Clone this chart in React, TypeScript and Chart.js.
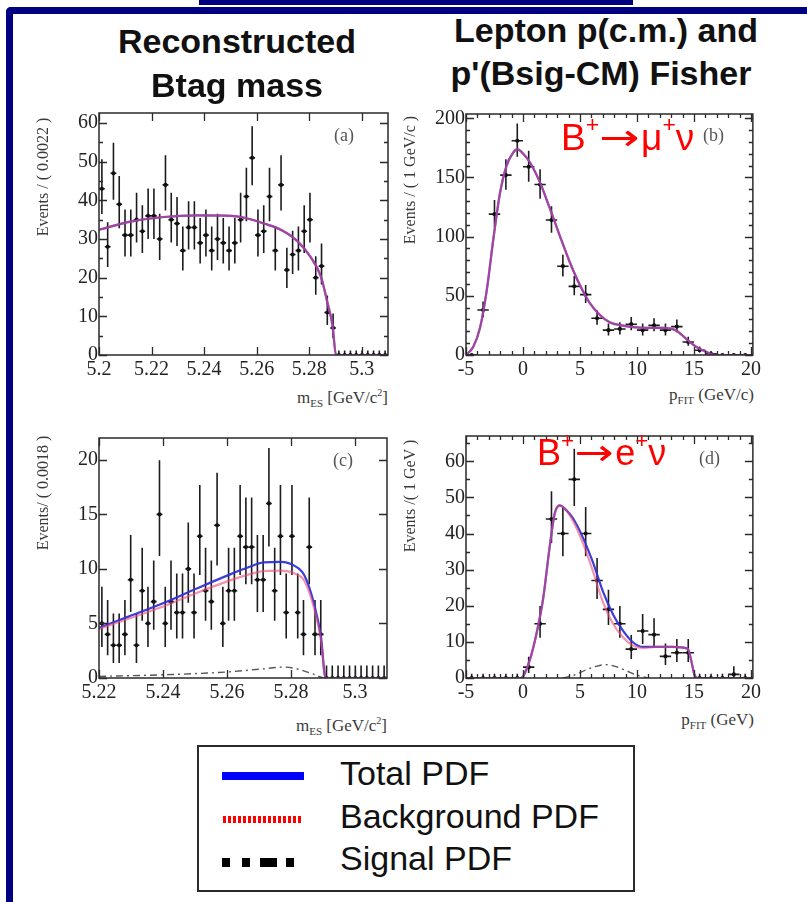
import React, { useEffect, useRef } from "react";
import { Chart, registerables } from "chart.js";
Chart.register(...registerables);

// ---------------- data ----------------
// (a) Btag mES, mu channel
const A_LO = 5.2;
const A_BIN = 0.0022;
const A_COUNTS = [43, 28, 47, 39, 31, 31, 35, 32, 36, 36, 30, 44, 35, 34, 27, 33, 33, 29, 31, 27, 30, 29, 27, 29, 35, 41, 51, 31, 32, 41, 27, 44, 22, 26, 27, 32, 35, 20, 23, 11, 7, 0, 0, 0, 0, 0, 0, 0, 0, 0];
const A_FIT_X = [5.2, 5.212, 5.2247, 5.2374, 5.2501, 5.2565, 5.2628, 5.2692, 5.2756, 5.2807, 5.2845, 5.287, 5.2889, 5.2902, 5.31];
const A_FIT_Y = [32.4, 34.5, 35.7, 36.1, 36.0, 35.3, 34.0, 32.4, 29.4, 25.2, 20.2, 13.4, 7.6, 0, 0];

// (b) pFIT, mu channel
const B_LO = -5;
const B_BIN = 1;
const B_COUNTS = [0, 38, 119, 152, 181, 159, 144, 114, 75, 58, 51, 31, 21, 22, 26, 21, 25, 21, 24, 11, 4, 1, 0, 0, 0];
const B_FIT_X = [-5, -4.36, -3.77, -3.19, -2.6, -2.02, -1.44, -0.86, -0.5, 0.02, 0.6, 1.48, 2.35, 3.23, 4.1, 4.98, 5.85, 6.73, 7.6, 8.77, 9.94, 11.1, 12.27, 13.44, 14.3, 15.2, 16.06, 16.94, 20.2];
const B_FIT_Y = [0, 6.9, 23, 54, 98, 136.6, 160, 171, 174, 170, 162.8, 146, 124, 100.7, 78.6, 59.3, 44, 34, 27.6, 24.8, 23.4, 22.9, 22.9, 20.7, 13.8, 6.9, 2.8, 0, 0];

// (c) Btag mES, e channel
const C_LO = 5.22;
const C_BIN = 0.0018;
const C_COUNTS = [5, 4, 3, 3, 4, 9, 3, 8, 5, 7, 15, 5, 7, 6, 6, 10, 6, 13, 8, 7, 14, 5, 8, 8, 13, 12, 12, 9, 9, 16, 8, 13, 6, 13, 6, 4, 12, 4, 4, 0, 0, 0, 0, 0, 0, 0, 0, 0, 0, 0];
const C_FIT_X = [5.22, 5.2294, 5.24, 5.2505, 5.261, 5.2663, 5.2715, 5.2768, 5.281, 5.2842, 5.2873, 5.2894, 5.2908, 5.31];
const C_TOTAL = [4.6, 5.65, 6.85, 8.2, 9.5, 10.1, 10.6, 10.65, 10.3, 9.4, 6.7, 3.7, 0, 0];
const C_BKG = [4.5, 5.45, 6.55, 7.8, 8.95, 9.45, 9.8, 9.85, 9.6, 8.9, 6.3, 3.4, 0, 0];
const C_SIG_X = [5.22, 5.235, 5.25, 5.26, 5.27, 5.278, 5.283, 5.287, 5.2905, 5.31];
const C_SIG = [0.15, 0.25, 0.4, 0.55, 0.8, 1.0, 0.75, 0.35, 0, 0];

// (d) pFIT, e channel
const D_LO = -5;
const D_BIN = 1;
const D_COUNTS = [0, 0, 0, 0, 0, 3, 15, 44, 40, 55, 40, 27, 19, 15, 8, 13, 12, 6, 7, 7, 0, 0, 0, 1, 0];
const D_FIT_X = [-5, -0.2, 0.02, 0.6, 1.18, 1.77, 2.35, 2.79, 3.23, 3.66, 4.39, 5.27, 6.14, 7.02, 7.9, 8.77, 9.64, 10.52, 11.69, 13.14, 14.46, 14.75, 15.04, 15.33, 20.2];
const D_TOTAL = [0, 0, 0.5, 5, 12.2, 22, 36.5, 45.6, 47.8, 46.9, 44.2, 38.8, 32, 23.9, 17.6, 13.1, 9.9, 8.6, 8.6, 8.6, 8.1, 5, 0.9, 0, 0];
const D_BKG = [0, 0, 0.5, 5, 12.2, 22, 36.5, 45.6, 47.8, 46.9, 43.5, 37.3, 29.5, 21, 15, 11.3, 9.0, 8.3, 8.6, 8.6, 8.1, 5, 0.9, 0, 0];
const D_SIG_X = [3.5, 4.5, 5.5, 6.5, 7.3, 8, 9, 10, 11];
const D_SIG = [0, 0.8, 2.2, 3.3, 3.7, 3.3, 2.1, 0.8, 0];

const LEGEND_LABELS = ["Total PDF", "Background PDF", "Signal PDF"];

// ---------------- helpers ----------------
function poissonBand(n: number): [number, number] {
  if (n <= 0) return [0, 1.148];
  const lo = n * Math.pow(1 - 1 / (9 * n) - 1 / (3 * Math.sqrt(n)), 3);
  const m = n + 1;
  const hi = m * Math.pow(1 - 1 / (9 * m) + 1 / (3 * Math.sqrt(m)), 3);
  return [lo, hi];
}

type Curve = { x: number[]; y: number[]; kind: "total" | "bkg" | "sig" };
type PanelCfg = {
  plot: { l: number; t: number; r: number; b: number };
  xMin: number; xMax: number; xStep: number; xMinor: number; xDec: number;
  yMax: number; yStep: number; yMinor: number;
  lo: number; w: number; counts: number[];
  curves: Curve[];
};

const SERIF = '"Liberation Serif", "DejaVu Serif", serif';
const SANS = '"Liberation Sans", Arial, sans-serif';

const PL = 52, PT = 8, PR = 10, PB = 30;

function Panel({ cfg }: { cfg: PanelCfg }) {
  const ref = useRef<HTMLCanvasElement>(null);
  const L = cfg.plot.l - PL, T = cfg.plot.t - PT, R = cfg.plot.r + PR, B = cfg.plot.b + PB;
  const W = R - L, H = B - T;
  useEffect(() => {
    if (!ref.current) return;
    const fmtX = (v: number) => {
      if (cfg.xDec === 0) return String(Math.round(v));
      return Number(v).toFixed(cfg.xDec).replace(/0+$/, "").replace(/\.$/, "");
    };
    const rootStyle = {
      id: "rootStyle",
      beforeDatasetsDraw(chart: any) {
        const { ctx, chartArea: ca, scales } = chart;
        const x = scales.x, y = scales.y;
        ctx.save();
        ctx.beginPath();
        ctx.rect(ca.left, ca.top, ca.right - ca.left, ca.bottom - ca.top);
        ctx.clip();
        ctx.strokeStyle = "#1c1c1c";
        ctx.lineWidth = 1.6;
        cfg.counts.forEach((n, i) => {
          const c = cfg.lo + (i + 0.5) * cfg.w;
          const [elo, ehi] = poissonBand(n);
          const px = x.getPixelForValue(c);
          const x0 = x.getPixelForValue(c - cfg.w / 2);
          const x1 = x.getPixelForValue(c + cfg.w / 2);
          const py = y.getPixelForValue(n);
          ctx.beginPath();
          ctx.moveTo(x0, py);
          ctx.lineTo(x1, py);
          ctx.moveTo(px, y.getPixelForValue(elo));
          ctx.lineTo(px, y.getPixelForValue(ehi));
          ctx.stroke();
        });
        ctx.restore();
      },
      afterDraw(chart: any) {
        const { ctx, chartArea: ca, scales } = chart;
        const x = scales.x, y = scales.y;
        ctx.save();
        ctx.strokeStyle = "#2a2a2a";
        ctx.lineWidth = 1.3;
        const MAJ = 8, MIN = 4;
        const tickSet = (scale: any, minor: number) => {
          const majors: number[] = scale.ticks.map((t: any) => t.value);
          const minors: number[] = [];
          if (minor > 0) {
            const k0 = Math.ceil(scale.min / minor - 1e-6), k1 = Math.floor(scale.max / minor + 1e-6);
            for (let k = k0; k <= k1; k++) {
              const v = k * minor;
              if (!majors.some((m) => Math.abs(m - v) < minor * 1e-3)) minors.push(v);
            }
          }
          return { majors, minors };
        };
        const xs = tickSet(x, cfg.xMinor);
        const ys = tickSet(y, cfg.yMinor);
        ctx.beginPath();
        const xt = (v: number, len: number) => {
          const p = Math.round(x.getPixelForValue(v)) + 0.5;
          ctx.moveTo(p, ca.bottom); ctx.lineTo(p, ca.bottom - len);
          ctx.moveTo(p, ca.top); ctx.lineTo(p, ca.top + len);
        };
        const yt = (v: number, len: number) => {
          const p = Math.round(y.getPixelForValue(v)) + 0.5;
          ctx.moveTo(ca.left, p); ctx.lineTo(ca.left + len, p);
          ctx.moveTo(ca.right, p); ctx.lineTo(ca.right - len, p);
        };
        xs.majors.forEach((v) => xt(v, MAJ));
        xs.minors.forEach((v) => xt(v, MIN));
        ys.majors.forEach((v) => yt(v, MAJ));
        ys.minors.forEach((v) => yt(v, MIN));
        ctx.stroke();
        ctx.lineWidth = 1.5;
        ctx.strokeStyle = "#2a2a2a";
        ctx.strokeRect(ca.left, ca.top, ca.right - ca.left, ca.bottom - ca.top);
        ctx.restore();
      },
    };
    const datasets: any[] = [
      {
        label: "data",
        data: cfg.counts.map((n, i) => ({ x: cfg.lo + (i + 0.5) * cfg.w, y: n })),
        showLine: false,
        pointRadius: 2.1,
        pointBackgroundColor: "#111",
        pointBorderWidth: 0,
        order: 3,
      },
    ];
    cfg.curves.forEach((c) => {
      const base: any = {
        data: c.x.map((xv, i) => ({ x: xv, y: c.y[i] })),
        showLine: true,
        pointRadius: 0,
        cubicInterpolationMode: "monotone",
        fill: false,
      };
      if (c.kind === "total") {
        datasets.push({ ...base, label: LEGEND_LABELS[0], borderColor: "rgba(50,50,215,0.95)", borderWidth: 2.2, order: 1 });
      } else if (c.kind === "bkg") {
        datasets.push({ ...base, label: LEGEND_LABELS[1], borderColor: "rgba(235,75,120,0.6)", borderWidth: 2.2, order: 0 });
      } else {
        datasets.push({ ...base, label: LEGEND_LABELS[2], borderColor: "#555", borderWidth: 1.4, borderDash: [7, 4, 2, 4], order: 2 });
      }
    });
    const tickFont = { family: SERIF, size: 20 };
    const chart = new Chart(ref.current, {
      type: "scatter",
      data: { datasets },
      options: {
        animation: false,
        responsive: false,
        maintainAspectRatio: false,
        devicePixelRatio: 1,
        events: [],
        layout: { padding: { left: 0, top: PT, right: PR, bottom: 0 } },
        plugins: { legend: { display: false }, tooltip: { enabled: false } },
        scales: {
          x: {
            type: "linear",
            position: "bottom",
            min: cfg.xMin,
            max: cfg.xMax,
            grid: { display: false, drawTicks: false },
            border: { display: false },
            ticks: {
              stepSize: cfg.xStep,
              autoSkip: false,
              includeBounds: false,
              maxRotation: 0,
              minRotation: 0,
              padding: 3,
              font: tickFont,
              color: "#222",
              callback: (v: any) => fmtX(Number(v)),
            },
            afterFit: (s: any) => { s.height = PB; },
          },
          y: {
            type: "linear",
            position: "left",
            min: 0,
            max: cfg.yMax,
            grid: { display: false, drawTicks: false },
            border: { display: false },
            ticks: {
              stepSize: cfg.yStep,
              autoSkip: false,
              includeBounds: false,
              padding: 1,
              font: tickFont,
              color: "#222",
              callback: (v: any) => String(Math.round(Number(v))),
            },
            afterFit: (s: any) => { s.width = PL; },
          },
        },
      } as any,
      plugins: [rootStyle as any],
    });
    return () => chart.destroy();
  }, []);
  return (
    <canvas
      ref={ref}
      width={W}
      height={H}
      style={{ position: "absolute", left: L, top: T, width: W, height: H, zIndex: 1 }}
    />
  );
}

const PANEL_A: PanelCfg = {
  plot: { l: 99, t: 108, r: 388, b: 355 },
  xMin: 5.2, xMax: 5.31, xStep: 0.02, xMinor: 0, xDec: 2,
  yMax: 62.6, yStep: 10, yMinor: 5,
  lo: A_LO, w: A_BIN, counts: A_COUNTS,
  curves: [
    { x: A_FIT_X, y: A_FIT_Y, kind: "total" },
    { x: A_FIT_X, y: A_FIT_Y, kind: "bkg" },
  ],
};
const PANEL_B: PanelCfg = {
  plot: { l: 466, t: 109, r: 754, b: 355 },
  xMin: -5, xMax: 20.17, xStep: 5, xMinor: 1, xDec: 0,
  yMax: 203.6, yStep: 50, yMinor: 10,
  lo: B_LO, w: B_BIN, counts: B_COUNTS,
  curves: [
    { x: B_FIT_X, y: B_FIT_Y, kind: "total" },
    { x: B_FIT_X, y: B_FIT_Y, kind: "bkg" },
  ],
};
const PANEL_C: PanelCfg = {
  plot: { l: 99, t: 433, r: 387, b: 678 },
  xMin: 5.22, xMax: 5.31, xStep: 0.02, xMinor: 0, xDec: 2,
  yMax: 22, yStep: 5, yMinor: 0,
  lo: C_LO, w: C_BIN, counts: C_COUNTS,
  curves: [
    { x: C_SIG_X, y: C_SIG, kind: "sig" },
    { x: C_FIT_X, y: C_TOTAL, kind: "total" },
    { x: C_FIT_X, y: C_BKG, kind: "bkg" },
  ],
};
const PANEL_D: PanelCfg = {
  plot: { l: 466, t: 431, r: 754, b: 678 },
  xMin: -5, xMax: 20.17, xStep: 5, xMinor: 1, xDec: 0,
  yMax: 67, yStep: 10, yMinor: 5,
  lo: D_LO, w: D_BIN, counts: D_COUNTS,
  curves: [
    { x: D_SIG_X, y: D_SIG, kind: "sig" },
    { x: D_FIT_X, y: D_TOTAL, kind: "total" },
    { x: D_FIT_X, y: D_BKG, kind: "bkg" },
  ],
};

const abs = (s: React.CSSProperties): React.CSSProperties => ({ position: "absolute", whiteSpace: "nowrap", zIndex: 2, ...s });

function YTitle({ cx, cy, text }: { cx: number; cy: number; text: string }) {
  return (
    <div style={abs({ left: cx, top: cy, transform: "translate(-50%,-50%) rotate(-90deg)", font: `16px ${SERIF}`, lineHeight: "16px", color: "#3a3a3a" })}>
      {text}
    </div>
  );
}

function XTitle({ right, cy, main, sub, rest, sup, tail }: { right: number; cy: number; main: string; sub: string; rest: string; sup?: string; tail?: string }) {
  return (
    <div style={abs({ right: 807 - right, top: cy - 9, font: `17px ${SERIF}`, lineHeight: "18px", color: "#3a3a3a" })}>
      {main}
      <span style={{ fontSize: "11px", position: "relative", top: "4px" }}>{sub}</span> {rest}
      {sup ? <span style={{ fontSize: "10px", position: "relative", top: "-7px" }}>{sup}</span> : null}
      {tail}
    </div>
  );
}

function Sup({ children }: { children: React.ReactNode }) {
  return <span style={{ fontSize: "0.62em", position: "relative", top: "-0.78em" }}>{children}</span>;
}

function Arrow() {
  return (
    <span style={{ fontFamily: '"DejaVu Sans", sans-serif', display: "inline-block", transform: "scaleX(1.3)", margin: "0 6px 0 5px" }}>→</span>
  );
}

export default function App() {
  return (
    <div style={{ position: "absolute", left: 0, top: 0, width: 807, height: 902, background: "#fff", overflow: "hidden", fontFamily: SANS }}>
      {/* navy frame */}
      <div style={{ position: "absolute", left: 199, top: 0, width: 434, height: 5, background: "#000080" }} />
      <div style={{ position: "absolute", left: 6, top: 7, width: 820, height: 920, borderLeft: "7px solid #000080", borderTop: "7px solid #000080", borderTopLeftRadius: 5, boxSizing: "border-box" }} />

      {/* column titles */}
      <div style={abs({ left: 237, top: 24, transform: "translateX(-50%)", font: `bold 34px ${SANS}`, lineHeight: "34px", color: "#111" })}>Reconstructed</div>
      <div style={abs({ left: 237, top: 68, transform: "translateX(-50%)", font: `bold 34px ${SANS}`, lineHeight: "34px", color: "#111" })}>Btag mass</div>
      <div style={abs({ left: 606, top: 13, transform: "translateX(-50%)", font: `bold 34px ${SANS}`, lineHeight: "34px", color: "#111" })}>Lepton p(c.m.) and</div>
      <div style={abs({ left: 601, top: 56, transform: "translateX(-50%)", font: `bold 34px ${SANS}`, lineHeight: "34px", color: "#111" })}>p'(Bsig-CM) Fisher</div>

      <Panel cfg={PANEL_A} />
      <Panel cfg={PANEL_B} />
      <Panel cfg={PANEL_C} />
      <Panel cfg={PANEL_D} />

      {/* axis titles */}
      <YTitle cx={43} cy={177} text="Events / ( 0.0022 )" />
      <YTitle cx={410} cy={180} text="Events / ( 1 GeV/c )" />
      <YTitle cx={43} cy={493} text="Events/ ( 0.0018 )" />
      <YTitle cx={410} cy={496} text="Events /( 1 GeV )" />
      <XTitle right={388} cy={398} main="m" sub="ES" rest="[GeV/c" sup="2" tail="]" />
      <XTitle right={754} cy={395} main="p" sub="FIT" rest="(GeV/c)" />
      <XTitle right={387} cy={726} main="m" sub="ES" rest="[GeV/c" sup="2" tail="]" />
      <XTitle right={754} cy={720} main="p" sub="FIT" rest="(GeV)" />

      {/* panel tags */}
      <div style={abs({ left: 334, top: 126, font: `18px ${SERIF}`, lineHeight: "18px", color: "#555" })}>(a)</div>
      <div style={abs({ left: 703, top: 126, font: `18px ${SERIF}`, lineHeight: "18px", color: "#555" })}>(b)</div>
      <div style={abs({ left: 333, top: 451, font: `18px ${SERIF}`, lineHeight: "18px", color: "#555" })}>(c)</div>
      <div style={abs({ left: 699, top: 449, font: `18px ${SERIF}`, lineHeight: "18px", color: "#555" })}>(d)</div>

      {/* channel annotations */}
      <div style={abs({ left: 561, top: 119, font: `37px ${SANS}`, lineHeight: "37px", color: "#ff0000" })}>
        B<Sup>+</Sup><Arrow />μ<Sup>+</Sup>ν
      </div>
      <div style={abs({ left: 537, top: 435, font: `36px ${SANS}`, lineHeight: "36px", color: "#ff0000" })}>
        B<Sup>+</Sup><Arrow />e<Sup>+</Sup>ν
      </div>

      {/* legend */}
      <div style={{ position: "absolute", left: 197, top: 745, width: 438, height: 147, border: "2px solid #2a2a2a", boxSizing: "border-box", background: "#fff" }} />
      <div style={{ position: "absolute", left: 222, top: 772, width: 82, height: 8, background: "#0000ff" }} />
      <div style={{ position: "absolute", left: 223, top: 816, width: 80, height: 7, background: "repeating-linear-gradient(90deg, #ff0000 0px, #ff0000 3px, transparent 3px, transparent 5px)" }} />
      <div style={{ position: "absolute", left: 222, top: 858, width: 8, height: 9, background: "#000" }} />
      <div style={{ position: "absolute", left: 242, top: 858, width: 8, height: 9, background: "#000" }} />
      <div style={{ position: "absolute", left: 260, top: 858, width: 17, height: 9, background: "#000" }} />
      <div style={{ position: "absolute", left: 286, top: 858, width: 8, height: 9, background: "#000" }} />
      <div style={abs({ left: 340, top: 756, font: `34px ${SANS}`, lineHeight: "34px", color: "#111" })}>{LEGEND_LABELS[0]}</div>
      <div style={abs({ left: 340, top: 799, font: `34px ${SANS}`, lineHeight: "34px", color: "#111" })}>{LEGEND_LABELS[1]}</div>
      <div style={abs({ left: 340, top: 841, font: `34px ${SANS}`, lineHeight: "34px", color: "#111" })}>{LEGEND_LABELS[2]}</div>
    </div>
  );
}
